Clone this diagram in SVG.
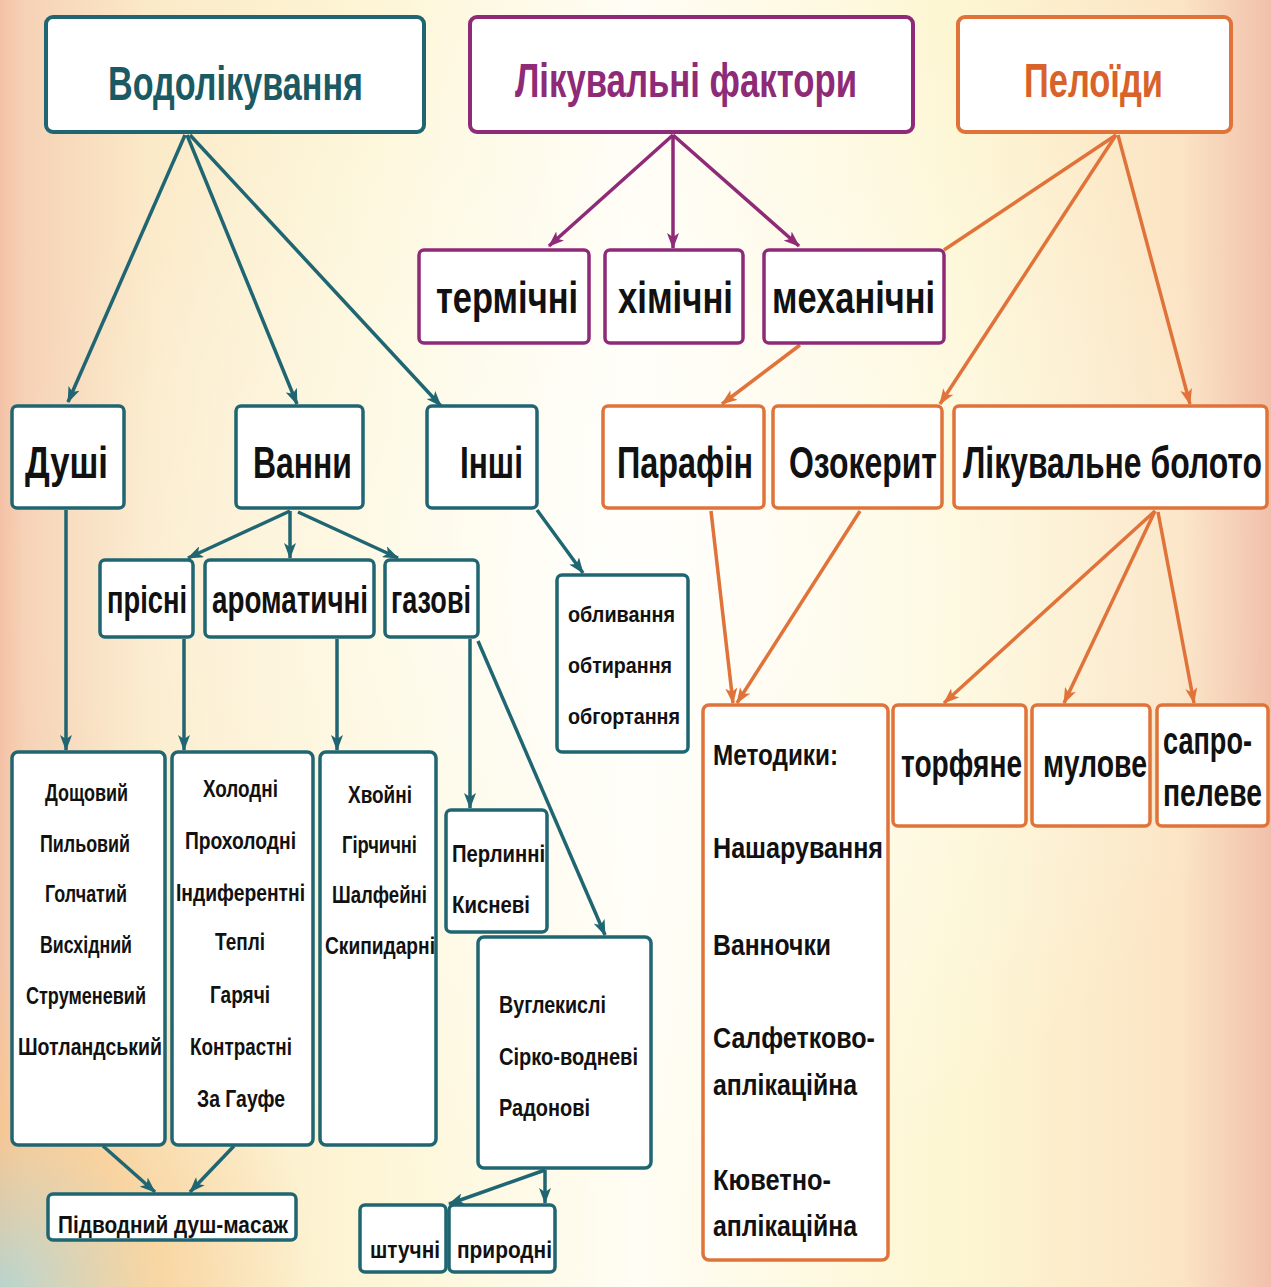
<svg xmlns="http://www.w3.org/2000/svg" width="1271" height="1287" viewBox="0 0 1271 1287">
<defs>
<linearGradient id="bg" x1="0" y1="0" x2="1" y2="0">
<stop offset="0" stop-color="#f4c2a6"/>
<stop offset="0.02" stop-color="#f6d2b6"/>
<stop offset="0.12" stop-color="#fbeac8"/>
<stop offset="0.3" stop-color="#fdf6d6"/>
<stop offset="0.5" stop-color="#fffdf4"/>
<stop offset="0.75" stop-color="#fdf6d2"/>
<stop offset="0.93" stop-color="#fbe4c4"/>
<stop offset="1" stop-color="#f1c0ac"/>
</linearGradient>
<radialGradient id="glow" cx="0.5" cy="0.45" r="0.5">
<stop offset="0" stop-color="#ffffff" stop-opacity="0.7"/>
<stop offset="1" stop-color="#ffffff" stop-opacity="0"/>
</radialGradient>
<radialGradient id="corner" cx="0" cy="1" r="0.25">
<stop offset="0" stop-color="#a9d8d8" stop-opacity="0.8"/>
<stop offset="0.5" stop-color="#f7c98a" stop-opacity="0.6"/>
<stop offset="1" stop-color="#f7c98a" stop-opacity="0"/>
</radialGradient>
<marker id="aT" viewBox="0 0 16 12" refX="15" refY="6" markerWidth="16" markerHeight="12" markerUnits="userSpaceOnUse" orient="auto"><path d="M0,0 L16,6 L0,12 L4,6 Z" fill="#1f6672"/></marker>
<marker id="aP" viewBox="0 0 16 12" refX="15" refY="6" markerWidth="16" markerHeight="12" markerUnits="userSpaceOnUse" orient="auto"><path d="M0,0 L16,6 L0,12 L4,6 Z" fill="#8e2a77"/></marker>
<marker id="aO" viewBox="0 0 16 12" refX="15" refY="6" markerWidth="16" markerHeight="12" markerUnits="userSpaceOnUse" orient="auto"><path d="M0,0 L16,6 L0,12 L4,6 Z" fill="#e0733a"/></marker>
</defs>
<style>
rect.t{fill:#fff;stroke:#1f6672;stroke-width:3.5}
rect.p{fill:#fff;stroke:#8e2a77;stroke-width:3.5}
rect.o{fill:#fff;stroke:#e0733a;stroke-width:3.5}
text{font-family:"Liberation Sans",Arial,sans-serif;font-weight:bold;fill:#111}
.h{font-size:48px}
.l{font-size:44px}
.m{font-size:38px}
.k{font-size:30px}
.s{font-size:24px}
.xs{font-size:22px}
line.T{stroke:#1f6672;stroke-width:3.5;fill:none}
line.P{stroke:#8e2a77;stroke-width:3.5;fill:none}
line.O{stroke:#e0733a;stroke-width:3.5;fill:none}
</style>
<rect x="0" y="0" width="1271" height="1287" fill="url(#bg)"/>
<rect x="0" y="0" width="1271" height="1287" fill="url(#glow)"/>
<rect x="0" y="0" width="1271" height="1287" fill="url(#corner)"/>

<g id="connectors">
<line class="T" x1="185" y1="135" x2="68" y2="402" marker-end="url(#aT)"/>
<line class="T" x1="187" y1="135" x2="297" y2="404" marker-end="url(#aT)"/>
<line class="T" x1="190" y1="135" x2="441" y2="406" marker-end="url(#aT)"/>
<line class="T" x1="66" y1="510" x2="66" y2="750" marker-end="url(#aT)"/>
<line class="T" x1="290" y1="511" x2="188" y2="558" marker-end="url(#aT)"/>
<line class="T" x1="290" y1="511" x2="290" y2="558" marker-end="url(#aT)"/>
<line class="T" x1="298" y1="512" x2="398" y2="558" marker-end="url(#aT)"/>
<line class="T" x1="537" y1="510" x2="583" y2="573" marker-end="url(#aT)"/>
<line class="T" x1="184" y1="639" x2="184" y2="750" marker-end="url(#aT)"/>
<line class="T" x1="337" y1="639" x2="337" y2="750" marker-end="url(#aT)"/>
<line class="T" x1="470" y1="639" x2="470" y2="808" marker-end="url(#aT)"/>
<line class="T" x1="478" y1="641" x2="605" y2="935" marker-end="url(#aT)"/>
<line class="T" x1="103" y1="1146" x2="155" y2="1192" marker-end="url(#aT)"/>
<line class="T" x1="234" y1="1146" x2="190" y2="1192" marker-end="url(#aT)"/>
<line class="T" x1="545" y1="1170" x2="449" y2="1204" marker-end="url(#aT)"/>
<line class="T" x1="545" y1="1170" x2="545" y2="1203" marker-end="url(#aT)"/>

<line class="P" x1="673" y1="135" x2="549" y2="246" marker-end="url(#aP)"/>
<line class="P" x1="673" y1="135" x2="673" y2="248" marker-end="url(#aP)"/>
<line class="P" x1="673" y1="135" x2="799" y2="246" marker-end="url(#aP)"/>

<line class="O" x1="1116" y1="135" x2="944" y2="250"/>
<line class="O" x1="800" y1="345" x2="722" y2="404" marker-end="url(#aO)"/>
<line class="O" x1="1116" y1="135" x2="940" y2="404" marker-end="url(#aO)"/>
<line class="O" x1="1118" y1="135" x2="1190" y2="404" marker-end="url(#aO)"/>
<line class="O" x1="711" y1="511" x2="733" y2="703" marker-end="url(#aO)"/>
<line class="O" x1="860" y1="511" x2="737" y2="703" marker-end="url(#aO)"/>
<line class="O" x1="1155" y1="511" x2="944" y2="703" marker-end="url(#aO)"/>
<line class="O" x1="1155" y1="511" x2="1064" y2="703" marker-end="url(#aO)"/>
<line class="O" x1="1158" y1="512" x2="1194" y2="703" marker-end="url(#aO)"/>
</g>

<g id="vodolikuvannia"><rect class="t" x="46" y="17" width="378" height="115" rx="7" style="stroke-width:4"/><text class="h" transform="translate(108,100) scale(0.7,1)" textLength="364.3" lengthAdjust="spacingAndGlyphs" style="fill:#1b5a63">Водолікування</text></g>
<g id="faktory"><rect class="p" x="470" y="17" width="443" height="115" rx="7" style="stroke-width:4"/><text class="h" transform="translate(515,97) scale(0.7,1)" textLength="488.6" lengthAdjust="spacingAndGlyphs" style="fill:#8e2a77">Лікувальні фактори</text></g>
<g id="peloidy"><rect class="o" x="958" y="17" width="273" height="115" rx="7" style="stroke-width:4"/><text class="h" transform="translate(1024,97) scale(0.7,1)" textLength="198.6" lengthAdjust="spacingAndGlyphs" style="fill:#d9622b">Пелоїди</text></g>

<g id="termichni"><rect class="p" x="419" y="250" width="170" height="93" rx="5"/><text class="l" transform="translate(436,313) scale(0.7,1)" textLength="202.9" lengthAdjust="spacingAndGlyphs">термічні</text></g>
<g id="khimichni"><rect class="p" x="605" y="250" width="138" height="93" rx="5"/><text class="l" transform="translate(618,313) scale(0.7,1)" textLength="164.3" lengthAdjust="spacingAndGlyphs">хімічні</text></g>
<g id="mekhanichni"><rect class="p" x="764" y="250" width="180" height="93" rx="5"/><text class="l" transform="translate(772,313) scale(0.7,1)" textLength="232.9" lengthAdjust="spacingAndGlyphs">механічні</text></g>

<g id="dushi"><rect class="t" x="12" y="406" width="112" height="102" rx="5"/><text class="l" transform="translate(25,478) scale(0.7,1)" textLength="118.6" lengthAdjust="spacingAndGlyphs">Душі</text></g>
<g id="vanny"><rect class="t" x="236" y="406" width="127" height="102" rx="5"/><text class="l" transform="translate(253,478) scale(0.7,1)" textLength="141.4" lengthAdjust="spacingAndGlyphs">Ванни</text></g>
<g id="inshi"><rect class="t" x="427" y="406" width="110" height="102" rx="5"/><text class="l" transform="translate(460,478) scale(0.7,1)" textLength="90" lengthAdjust="spacingAndGlyphs">Інші</text></g>

<g id="parafin"><rect class="o" x="603" y="406" width="161" height="102" rx="5"/><text class="l" transform="translate(617,478) scale(0.7,1)" textLength="194.3" lengthAdjust="spacingAndGlyphs">Парафін</text></g>
<g id="ozokeryt"><rect class="o" x="773" y="406" width="169" height="102" rx="5"/><text class="l" transform="translate(789,478) scale(0.7,1)" textLength="211.4" lengthAdjust="spacingAndGlyphs">Озокерит</text></g>
<g id="boloto"><rect class="o" x="954" y="406" width="313" height="102" rx="5"/><text class="l" transform="translate(963,478) scale(0.7,1)" textLength="427.1" lengthAdjust="spacingAndGlyphs">Лікувальне болото</text></g>

<g id="prisni"><rect class="t" x="100" y="560" width="93" height="77" rx="5"/><text class="m" transform="translate(107,613) scale(0.7,1)" textLength="114.3" lengthAdjust="spacingAndGlyphs">прісні</text></g>
<g id="aromatychni"><rect class="t" x="205" y="560" width="169" height="77" rx="5"/><text class="m" transform="translate(212,613) scale(0.7,1)" textLength="222.9" lengthAdjust="spacingAndGlyphs">ароматичні</text></g>
<g id="gazovi"><rect class="t" x="385" y="560" width="93" height="77" rx="5"/><text class="m" transform="translate(391,613) scale(0.7,1)" textLength="114.3" lengthAdjust="spacingAndGlyphs">газові</text></g>

<g id="oblyvannia"><rect class="t" x="557" y="575" width="131" height="177" rx="5"/>
<text class="xs" transform="translate(568,622) scale(0.7,1)" textLength="152.9" lengthAdjust="spacingAndGlyphs">обливання</text>
<text class="xs" transform="translate(568,673) scale(0.7,1)" textLength="148.6" lengthAdjust="spacingAndGlyphs">обтирання</text>
<text class="xs" transform="translate(568,724) scale(0.7,1)" textLength="160" lengthAdjust="spacingAndGlyphs">обгортання</text></g>

<g id="dushi-types"><rect class="t" x="12" y="752" width="153" height="393" rx="6"/>
<text class="s" transform="translate(45,801) scale(0.7,1)" textLength="118.6" lengthAdjust="spacingAndGlyphs">Дощовий</text>
<text class="s" transform="translate(40,852) scale(0.7,1)" textLength="128.6" lengthAdjust="spacingAndGlyphs">Пильовий</text>
<text class="s" transform="translate(45,902) scale(0.7,1)" textLength="117.1" lengthAdjust="spacingAndGlyphs">Голчатий</text>
<text class="s" transform="translate(40,953) scale(0.7,1)" textLength="131.4" lengthAdjust="spacingAndGlyphs">Висхідний</text>
<text class="s" transform="translate(26,1004) scale(0.7,1)" textLength="171.4" lengthAdjust="spacingAndGlyphs">Струменевий</text>
<text class="s" transform="translate(18,1055) scale(0.7,1)" textLength="205.7" lengthAdjust="spacingAndGlyphs">Шотландський</text></g>

<g id="prisni-types"><rect class="t" x="172" y="752" width="141" height="393" rx="6"/>
<text class="s" transform="translate(203,797) scale(0.7,1)" textLength="107.1" lengthAdjust="spacingAndGlyphs">Холодні</text>
<text class="s" transform="translate(185,849) scale(0.7,1)" textLength="158.6" lengthAdjust="spacingAndGlyphs">Прохолодні</text>
<text class="s" transform="translate(176,901) scale(0.7,1)" textLength="184.3" lengthAdjust="spacingAndGlyphs">Індиферентні</text>
<text class="s" transform="translate(215,950) scale(0.7,1)" textLength="71.4" lengthAdjust="spacingAndGlyphs">Теплі</text>
<text class="s" transform="translate(210,1003) scale(0.7,1)" textLength="85.7" lengthAdjust="spacingAndGlyphs">Гарячі</text>
<text class="s" transform="translate(190,1055) scale(0.7,1)" textLength="145.7" lengthAdjust="spacingAndGlyphs">Контрастні</text>
<text class="s" transform="translate(197,1107) scale(0.7,1)" textLength="125.7" lengthAdjust="spacingAndGlyphs">За Гауфе</text></g>

<g id="aromat-types"><rect class="t" x="320" y="752" width="116" height="393" rx="6"/>
<text class="s" transform="translate(348,803) scale(0.7,1)" textLength="91.4" lengthAdjust="spacingAndGlyphs">Хвойні</text>
<text class="s" transform="translate(342,853) scale(0.7,1)" textLength="107.1" lengthAdjust="spacingAndGlyphs">Гірчичні</text>
<text class="s" transform="translate(332,903) scale(0.7,1)" textLength="135.7" lengthAdjust="spacingAndGlyphs">Шалфейні</text>
<text class="s" transform="translate(325,954) scale(0.7,1)" textLength="157.1" lengthAdjust="spacingAndGlyphs">Скипидарні</text></g>

<g id="perlynni"><rect class="t" x="446" y="810" width="101" height="122" rx="5"/>
<text class="s" transform="translate(452,862) scale(0.7,1)" textLength="132.9" lengthAdjust="spacingAndGlyphs">Перлинні</text>
<text class="s" transform="translate(452,913) scale(0.7,1)" textLength="111.4" lengthAdjust="spacingAndGlyphs">Кисневі</text></g>

<g id="vuhlekysli"><rect class="t" x="478" y="937" width="173" height="231" rx="6"/>
<text class="s" transform="translate(499,1013) scale(0.7,1)" textLength="152.9" lengthAdjust="spacingAndGlyphs">Вуглекислі</text>
<text class="s" transform="translate(499,1065) scale(0.7,1)" textLength="198.6" lengthAdjust="spacingAndGlyphs">Сірко-водневі</text>
<text class="s" transform="translate(499,1116) scale(0.7,1)" textLength="130" lengthAdjust="spacingAndGlyphs">Радонові</text></g>

<g id="pidvodnyi"><rect class="t" x="48" y="1194" width="248" height="46" rx="5"/><text class="s" transform="translate(58,1233) scale(0.7,1)" textLength="328.6" lengthAdjust="spacingAndGlyphs">Підводний душ-масаж</text></g>
<g id="shtuchni"><rect class="t" x="360" y="1205" width="86" height="67" rx="5"/><text class="s" transform="translate(370,1258) scale(0.7,1)" textLength="100" lengthAdjust="spacingAndGlyphs">штучні</text></g>
<g id="pryrodni"><rect class="t" x="449" y="1205" width="106" height="67" rx="5"/><text class="s" transform="translate(457,1258) scale(0.7,1)" textLength="135.7" lengthAdjust="spacingAndGlyphs">природні</text></g>

<g id="metodyky"><rect class="o" x="703" y="705" width="185" height="555" rx="6"/>
<text class="k" transform="translate(713,765) scale(0.7,1)" textLength="178.6" lengthAdjust="spacingAndGlyphs">Методики:</text>
<text class="k" transform="translate(713,858) scale(0.7,1)" textLength="242.9" lengthAdjust="spacingAndGlyphs">Нашарування</text>
<text class="k" transform="translate(713,955) scale(0.7,1)" textLength="168.6" lengthAdjust="spacingAndGlyphs">Ванночки</text>
<text class="k" transform="translate(713,1048) scale(0.7,1)" textLength="231.4" lengthAdjust="spacingAndGlyphs">Салфетково-</text>
<text class="k" transform="translate(713,1095) scale(0.7,1)" textLength="205.7" lengthAdjust="spacingAndGlyphs">аплікаційна</text>
<text class="k" transform="translate(713,1190) scale(0.7,1)" textLength="168.6" lengthAdjust="spacingAndGlyphs">Кюветно-</text>
<text class="k" transform="translate(713,1236) scale(0.7,1)" textLength="205.7" lengthAdjust="spacingAndGlyphs">аплікаційна</text></g>

<g id="torfiane"><rect class="o" x="893" y="705" width="133" height="121" rx="5"/><text class="m" transform="translate(901,777) scale(0.7,1)" textLength="172.9" lengthAdjust="spacingAndGlyphs">торфяне</text></g>
<g id="mulove"><rect class="o" x="1032" y="705" width="118" height="121" rx="5"/><text class="m" transform="translate(1043,777) scale(0.7,1)" textLength="148.6" lengthAdjust="spacingAndGlyphs">мулове</text></g>
<g id="sapropeleve"><rect class="o" x="1157" y="705" width="111" height="121" rx="5"/>
<text class="m" transform="translate(1163,754) scale(0.7,1)" textLength="127.1" lengthAdjust="spacingAndGlyphs">сапро-</text>
<text class="m" transform="translate(1163,806) scale(0.7,1)" textLength="141.4" lengthAdjust="spacingAndGlyphs">пелеве</text></g>
</svg>
